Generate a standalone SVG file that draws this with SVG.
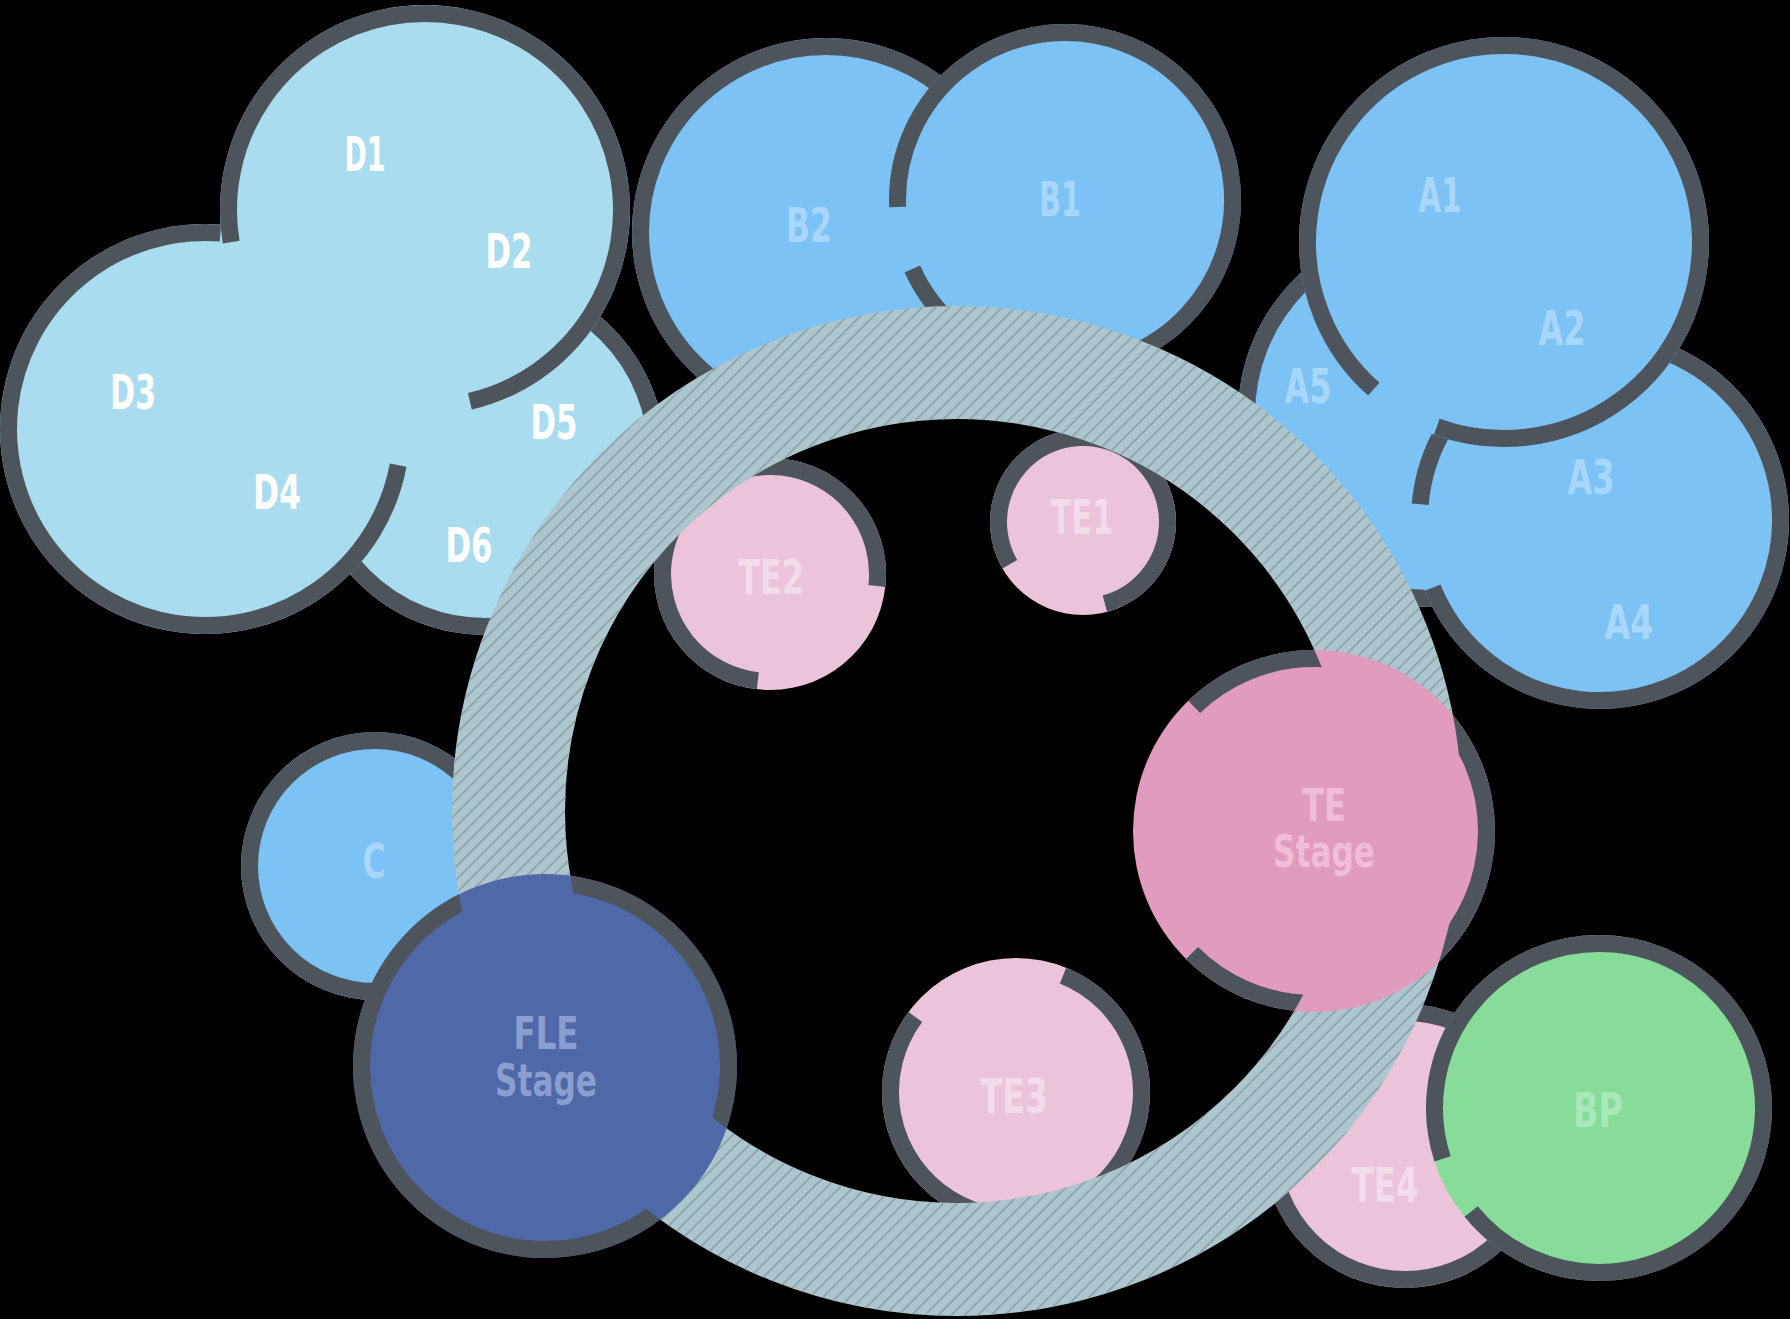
<svg xmlns="http://www.w3.org/2000/svg" width="1790" height="1319" viewBox="0 0 1790 1319">
<defs>
<style>
.st{fill:none;stroke:#4d545b;stroke-width:17;stroke-linecap:butt}
.lb{font-family:"Liberation Sans Narrow","DejaVu Sans Condensed","Liberation Sans",sans-serif;font-weight:bold;font-size:48px;text-anchor:middle}
.lb2{font-size:44px}
.fD{fill:#a9dcee}.fB{fill:#7cc2f5}.fT{fill:#ebc4da}.fTS{fill:#e09bbd}.fF{fill:#4f68a8}.fG{fill:#86dc98}
.tD{fill:#ffffff}.tB{fill:#a9d7fb}.tT{fill:#f3dcea}.tTS{fill:#efbdd6}.tF{fill:#8a9ed0}.tG{fill:#a9e8b9}
</style>
<pattern id="hatch" patternUnits="userSpaceOnUse" width="9.4" height="20" patternTransform="rotate(45)">
<line x1="4.7" y1="0" x2="4.7" y2="20" stroke="#8a9fa7" stroke-width="1.6"/>
</pattern>
<mask id="ringGap" maskUnits="userSpaceOnUse" x="0" y="0" width="1790" height="1319">
<rect x="0" y="0" width="1790" height="1319" fill="#fff"/>
<circle cx="957" cy="811" r="448.5" fill="none" stroke="#000" stroke-width="113"/>
</mask>
</defs>
<rect x="0" y="0" width="1790" height="1319" fill="#000"/>

<g id="D56">
<circle class="fD" cx="485" cy="455" r="180"/>
<circle class="st" cx="485" cy="455" r="171.5"/>
</g>
<g id="D3">
<circle class="fD" cx="205" cy="429" r="205"/>
<path class="st" d="M398.15,465.15 A196.5,196.5 0 1 1 220.42,233.10"/>
</g>
<g id="D1">
<circle class="fD" cx="425" cy="210" r="205"/>
<path class="st" d="M231.14,242.09 A196.5,196.5 0 1 1 469.87,401.31"/>
</g>
<g id="D-labels">
<text class="lb tD" x="365" y="171" textLength="41" lengthAdjust="spacingAndGlyphs">D1</text>
<text class="lb tD" x="509" y="268" textLength="47" lengthAdjust="spacingAndGlyphs">D2</text>
<text class="lb tD" x="133" y="409" textLength="46" lengthAdjust="spacingAndGlyphs">D3</text>
<text class="lb tD" x="277" y="509" textLength="48" lengthAdjust="spacingAndGlyphs">D4</text>
<text class="lb tD" x="554" y="439" textLength="47" lengthAdjust="spacingAndGlyphs">D5</text>
<text class="lb tD" x="469" y="562" textLength="47" lengthAdjust="spacingAndGlyphs">D6</text>
</g>

<g id="B2">
<circle class="fB" cx="826" cy="232" r="194"/>
<circle class="st" cx="826" cy="232" r="185.5"/>
</g>
<g id="B1">
<circle class="fB" cx="1065" cy="200" r="176"/>
<path class="st" d="M897.65,207.01 A167.5,167.5 0 1 1 912.34,268.93"/>
</g>
<text class="lb tB" x="809" y="242" textLength="46" lengthAdjust="spacingAndGlyphs">B2</text>
<text class="lb tB" x="1060" y="216" textLength="42" lengthAdjust="spacingAndGlyphs">B1</text>

<g id="A5">
<circle class="fB" cx="1430" cy="415" r="192"/>
<circle class="st" cx="1430" cy="415" r="183.5"/>
</g>
<g id="A34">
<circle class="fB" cx="1600" cy="520" r="189"/>
<path class="st" d="M1420.19,504.27 A180.5,180.5 0 1 1 1432.64,587.62"/>
</g>
<g id="A1">
<circle class="fB" cx="1504" cy="242" r="205"/>
<path class="st" d="M1373.79,389.17 A196.5,196.5 0 1 1 1436.79,426.65"/>
</g>
<g id="A-labels">
<text class="lb tB" x="1440" y="212" textLength="43" lengthAdjust="spacingAndGlyphs">A1</text>
<text class="lb tB" x="1562" y="345" textLength="47" lengthAdjust="spacingAndGlyphs">A2</text>
<text class="lb tB" x="1308" y="403" textLength="47" lengthAdjust="spacingAndGlyphs">A5</text>
<text class="lb tB" x="1591" y="494" textLength="47" lengthAdjust="spacingAndGlyphs">A3</text>
<text class="lb tB" x="1629" y="639" textLength="49" lengthAdjust="spacingAndGlyphs">A4</text>
</g>

<g id="C">
<circle class="fB" cx="375" cy="866" r="134"/>
<circle class="st" cx="375" cy="866" r="125.5"/>
<text class="lb tB" x="374" y="878" textLength="23" lengthAdjust="spacingAndGlyphs">C</text>
</g>

<g id="TE1">
<circle class="fT" cx="1083" cy="522" r="93"/>
<path class="st" d="M1009.82,564.25 A84.5,84.5 0 1 1 1104.87,603.62"/>
<text class="lb tT" x="1082" y="534" textLength="63" lengthAdjust="spacingAndGlyphs">TE1</text>
</g>
<g id="TE2">
<circle class="fT" cx="770" cy="574" r="116"/>
<path class="st" d="M757.83,680.81 A107.5,107.5 0 1 1 876.83,585.98"/>
<text class="lb tT" x="771" y="594" textLength="66" lengthAdjust="spacingAndGlyphs">TE2</text>
</g>
<g id="TE3">
<circle class="fT" cx="1016" cy="1092" r="134"/>
<path class="st" d="M1063.01,975.64 A125.5,125.5 0 1 1 915.38,1017.00"/>
<text class="lb tT" x="1014" y="1113" textLength="68" lengthAdjust="spacingAndGlyphs">TE3</text>
</g>
<g id="TE4">
<circle class="fT" cx="1405" cy="1146" r="142"/>
<circle class="st" cx="1405" cy="1146" r="133.5"/>
<text class="lb tT" x="1385" y="1202" textLength="67" lengthAdjust="spacingAndGlyphs">TE4</text>
</g>
<g id="BP">
<circle class="fG" cx="1599" cy="1108" r="173"/>
<path class="st" d="M1442.55,1158.83 A164.5,164.5 0 1 1 1471.16,1211.52"/>
<text class="lb tG" x="1598" y="1127" textLength="50" lengthAdjust="spacingAndGlyphs">BP</text>
</g>

<g id="ring">
<circle cx="957" cy="811" r="448.5" fill="none" stroke="#adc6ce" stroke-width="113"/>
<circle cx="957" cy="811" r="448.5" fill="none" stroke="url(#hatch)" stroke-width="113"/>
</g>

<g id="FLE-Stage">
<circle class="fF" cx="545" cy="1066" r="192"/>
<circle class="st" cx="545" cy="1066" r="183.5" mask="url(#ringGap)"/>
<text class="lb lb2 tF" x="546" y="1049" textLength="65" lengthAdjust="spacingAndGlyphs">FLE</text>
<text class="lb lb2 tF" x="546" y="1096" textLength="102" lengthAdjust="spacingAndGlyphs">Stage</text>
</g>
<g id="TE-Stage">
<circle class="fTS" cx="1314" cy="831" r="181"/>
<path class="st" d="M1194.17,706.91 A172.5,172.5 0 1 1 1192.02,952.98" mask="url(#ringGap)"/>
<text class="lb lb2 tTS" x="1324" y="821" textLength="44" lengthAdjust="spacingAndGlyphs">TE</text>
<text class="lb lb2 tTS" x="1324" y="867" textLength="102" lengthAdjust="spacingAndGlyphs">Stage</text>
</g>
</svg>
